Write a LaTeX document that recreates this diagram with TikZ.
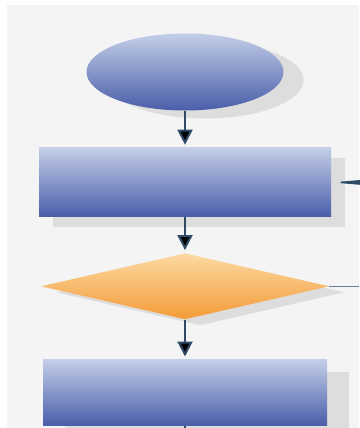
\documentclass[tikz,border=0pt]{standalone}
\usepackage{tikz}
\usetikzlibrary{arrows.meta, shapes, shapes.geometric, positioning, shadows}

\definecolor{bgGray}{HTML}{F4F4F4}
\definecolor{blueTop}{HTML}{C3CEE7}
\definecolor{blueBot}{HTML}{4A5DAA}
\definecolor{orangeTop}{HTML}{FCD9A2}
\definecolor{orangeBot}{HTML}{F49B38}
\definecolor{arrowSlate}{HTML}{2F4A66}
\definecolor{lineGray}{HTML}{6D7E99}
\definecolor{shadowGray}{HTML}{DDDDDD}

\begin{document}
\begin{tikzpicture}[node distance=37pt and 1cm,
    bluefill/.style={inner sep=0pt, top color=blueTop, bottom color=blueBot, draw=none},
    orangefill/.style={inner sep=0pt, top color=orangeTop, bottom color=orangeBot, draw=none},
    arr/.style={draw=arrowSlate, line width=2pt, -{Triangle[length=15pt, width=15pt]}, shorten >=3pt},
    longarr/.style={draw=arrowSlate, line width=1.5pt, -{Triangle[length=50pt, width=8pt]}}]
            \useasboundingbox (0,0) rectangle (359pt,-428pt);
            \fill[bgGray] (7pt,-5pt) rectangle (359pt,-428pt);
            % \tikzstyle{every node}=[font=\small]
            \node[ellipse, bluefill, minimum width=197pt, minimum height=77pt,
                  drop shadow={shadow xshift=20pt, shadow yshift=-8pt, fill=shadowGray, opacity=1}] (start) at (185pt,-72pt) {};
            \node[rectangle, bluefill, minimum width=292pt, minimum height=69pt,
                  drop shadow={shadow xshift=14pt, shadow yshift=-10pt, fill=shadowGray, opacity=1}] (task1) [below=of start] {};
            \node[diamond, orangefill, minimum width=288pt, minimum height=66pt,
                  drop shadow={shadow xshift=15pt, shadow yshift=-6pt, fill=shadowGray, opacity=1}] (check) [below=36pt of task1] {};
            \node[rectangle, bluefill, minimum width=284pt, minimum height=66pt,
                  drop shadow={shadow xshift=22pt, shadow yshift=-12pt, fill=shadowGray, opacity=1}] (task2) [below=40pt of check] {};

            \coordinate (loopIn) at (task1.east -| 385pt,0);
            \coordinate (noOut) at (check.east -| 359pt,0);
            \coordinate (nextOut) at (task2.south |- 0,-428pt);

            \path[arr]  (start) edge (task1);
            \path[arr]  (task1) edge (check);
            \path[arr]  (check) edge (task2);
            \draw[longarr]  (loopIn) -- (task1.east);
            \draw[lineGray, line width=1.5pt]  (check.east) -- (noOut);
            \draw[arrowSlate, line width=2pt]  (task2.south) -- (nextOut);
        \end{tikzpicture}
\end{document}
